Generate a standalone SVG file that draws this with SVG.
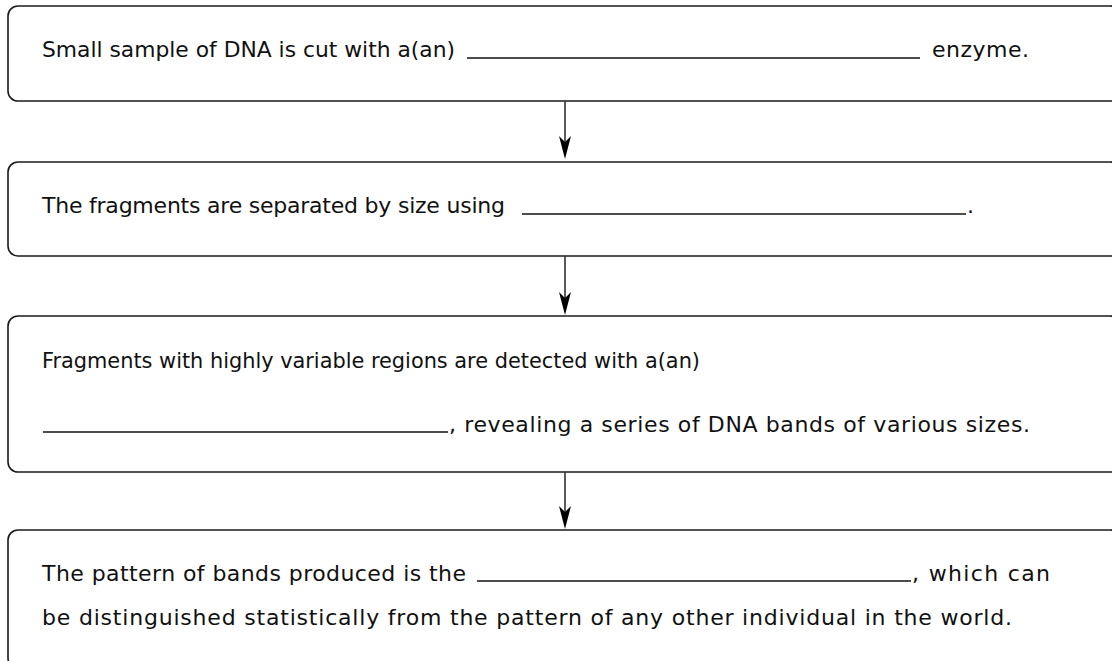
<svg xmlns="http://www.w3.org/2000/svg" width="1112" height="661" viewBox="0 0 1112 661">
<style>
.box{fill:#fff;stroke:#1a1a1a;stroke-width:1.6}
.t{font-family:"DejaVu Sans","Liberation Sans",sans-serif;font-size:22px;fill:#111}
.blank{stroke:#111;stroke-width:1.5}
.conn{stroke:#333;stroke-width:1.6;fill:none}
.head{fill:#000}
</style>
<defs>
<path id="ah" class="head" d="M0,0 L-6,-23 L0,-17 L6,-23 Z"/>
</defs>
<rect width="1112" height="661" fill="#fff"/>
<g id="node1">
<rect class="box" x="8" y="6" width="1112" height="95" rx="10" ry="10"/>
<text class="t" x="42" y="57" textLength="413" lengthAdjust="spacingAndGlyphs">Small sample of DNA is cut with a(an)</text>
<line class="blank" x1="467" y1="58" x2="920" y2="58"/>
<text class="t" x="932" y="57" textLength="97" lengthAdjust="spacing">enzyme.</text>
</g>
<g id="node2">
<rect class="box" x="8" y="162" width="1112" height="94" rx="10" ry="10"/>
<text class="t" x="42" y="213" textLength="463" lengthAdjust="spacing">The fragments are separated by size using</text>
<line class="blank" x1="522" y1="214" x2="966" y2="214"/>
<text class="t" x="967" y="213">.</text>
</g>
<g id="node3">
<rect class="box" x="8" y="316" width="1112" height="156" rx="10" ry="10"/>
<text class="t" x="42" y="368" textLength="658" lengthAdjust="spacingAndGlyphs">Fragments with highly variable regions are detected with a(an)</text>
<line class="blank" x1="43" y1="432" x2="448" y2="432"/>
<text class="t" x="449" y="432" textLength="581" lengthAdjust="spacing">, revealing a series of DNA bands of various sizes.</text>
</g>
<g id="node4">
<rect class="box" x="8" y="530" width="1112" height="138" rx="10" ry="10"/>
<text class="t" x="42" y="581" textLength="424" lengthAdjust="spacing">The pattern of bands produced is the</text>
<line class="blank" x1="477" y1="581" x2="911" y2="581"/>
<text class="t" x="912" y="581" textLength="138" lengthAdjust="spacing">, which can</text>
<text class="t" x="42" y="625" textLength="970" lengthAdjust="spacing">be distinguished statistically from the pattern of any other individual in the world.</text>
</g>
<g id="connectors">
<line class="conn" x1="565" y1="101" x2="565" y2="145"/>
<use href="#ah" x="565" y="159"/>
<line class="conn" x1="565" y1="256" x2="565" y2="300"/>
<use href="#ah" x="565" y="315"/>
<line class="conn" x1="565" y1="472" x2="565" y2="515"/>
<use href="#ah" x="565" y="529"/>
</g>
</svg>
